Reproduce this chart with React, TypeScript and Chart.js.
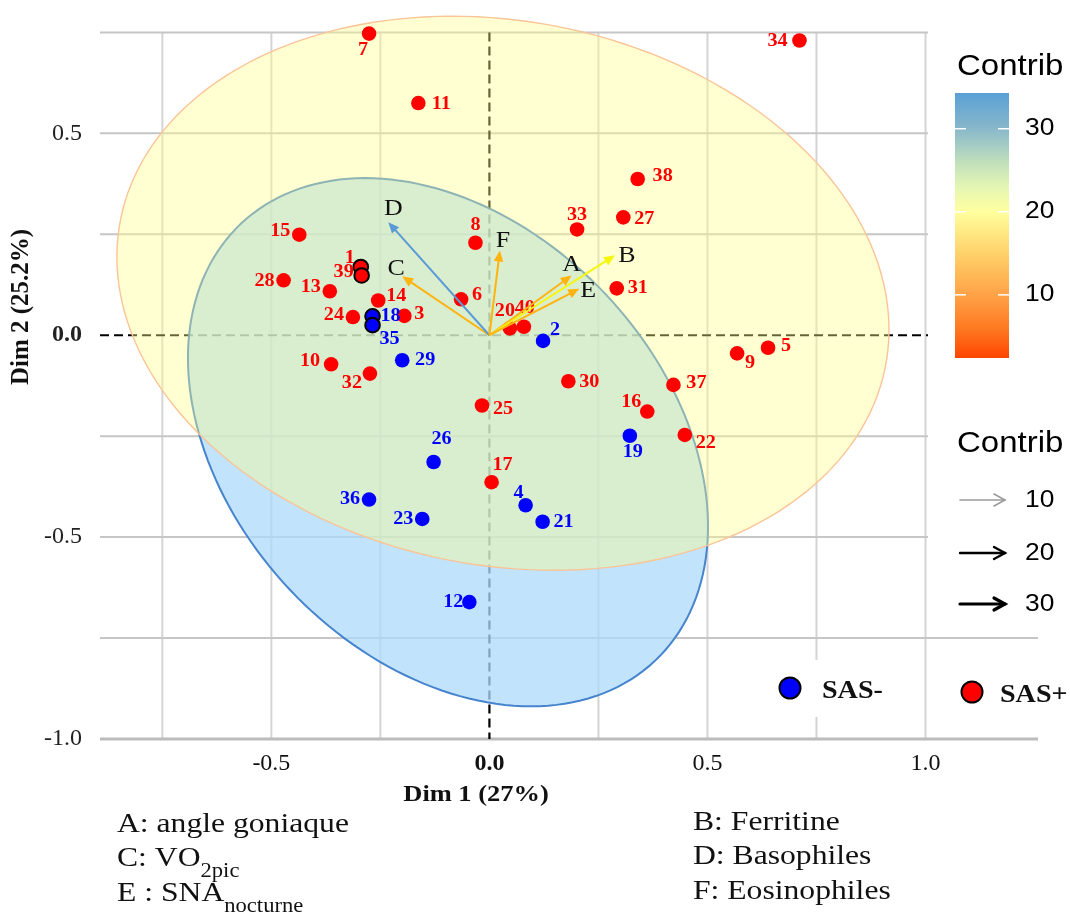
import React, { useEffect, useRef } from 'react';
import { Chart, registerables } from 'chart.js';

Chart.register(...registerables);

const SERIF = '"Liberation Serif", "Times New Roman", Times, serif';
const SANS = '"Liberation Sans", Arial, Helvetica, sans-serif';

// ---- individuals (PCA coordinates) ----
const sasPlusIds = [7, 11, 34, 38, 33, 27, 31, 15, 8, 1, 39, 28, 13, 14, 24, 3, 6, 20, 40, 5, 9, 10, 32, 30, 37, 16, 22, 25, 17];
const sasPlusX = [-0.276, -0.163, 0.711, 0.34, 0.201, 0.307, 0.292, -0.436, -0.032, -0.295, -0.293, -0.472, -0.366, -0.255, -0.313, -0.195, -0.065, 0.047, 0.079, 0.639, 0.568, -0.363, -0.274, 0.181, 0.422, 0.362, 0.448, -0.017, 0.005];
const sasPlusY = [0.747, 0.575, 0.73, 0.387, 0.262, 0.292, 0.116, 0.249, 0.229, 0.169, 0.148, 0.136, 0.109, 0.086, 0.045, 0.048, 0.089, 0.017, 0.021, -0.031, -0.045, -0.072, -0.095, -0.114, -0.123, -0.189, -0.247, -0.174, -0.364];

const sasMinusIds = [2, 18, 35, 29, 26, 19, 36, 23, 4, 21, 12];
const sasMinusX = [0.123, -0.268, -0.268, -0.2, -0.128, 0.322, -0.276, -0.154, 0.083, 0.122, -0.046];
const sasMinusY = [-0.014, 0.047, 0.025, -0.062, -0.314, -0.249, -0.407, -0.455, -0.421, -0.462, -0.661];

const outlinedIds = [1, 39, 18, 35];

// label placement relative to the point (px)
const labelOffset: Record<number, [number, number]> = {
  7: [-6, 17], 11: [23, 1], 34: [-22, 1], 38: [25, -3], 33: [0, -14], 27: [21, 2], 31: [21, 0],
  15: [-19, -3], 8: [0, -17], 1: [-11, -9], 39: [-18, -3], 28: [-19, 1], 13: [-19, -4], 14: [18, -4],
  24: [-19, -2], 3: [15, -2], 6: [16, -4], 20: [-5, -17], 40: [1, -18], 5: [18, -1], 9: [13, 10],
  10: [-21, -3], 32: [-18, 10], 30: [21, 1], 37: [23, -2], 16: [-16, -9], 22: [21, 8], 25: [21, 4],
  17: [11, -17], 2: [12, -11], 18: [18, 0], 35: [17, 14], 29: [23, 0], 26: [8, -23], 19: [3, 17],
  36: [-19, 0], 23: [-19, 0], 4: [-7, -12], 21: [21, 1], 12: [-16, 0],
};

// ---- variables (arrows) ----
const varNames = ['A', 'B', 'C', 'D', 'E', 'F'];
const varX = [0.1885, 0.288, -0.2, -0.232, 0.206, 0.024];
const varY = [0.148, 0.198, 0.146, 0.28, 0.115, 0.21];
const varColors = ['#ffb30f', '#f6f60c', '#ffb30f', '#5b9bd5', '#ffb30f', '#ffb30f'];
const varLabelOffset: [number, number][] = [[0, -11], [12, 0], [-6, -8], [5, -13], [9, 2], [3, -10]];

// ---- confidence ellipses ----
const ellipseGroups = ['SAS-', 'SAS+'];
const ellipseCenterX = [-0.095, 0.031];
const ellipseCenterY = [-0.265, 0.104];
const ellipseSemiMajor = [0.722, 0.896];
const ellipseSemiMinor = [0.512, 0.672];
const ellipseAngleDeg = [-53.1, -13.5];
const ellipseFill = ['rgba(172,218,250,0.75)', 'rgba(255,255,140,0.39)'];
const ellipseStroke = ['rgba(70,132,205,1)', 'rgba(250,196,150,1)'];

// ---- axes ----
const xMin = -0.893;
const xMax = 1.258;
const yMin = -1.0;
const yMax = 0.75;
const xTickValues = [-0.5, 0, 0.5, 1.0];
const yTickValues = [-1.0, -0.5, 0, 0.5];
const xGridValues = [-0.75, -0.5, -0.25, 0, 0.25, 0.5, 0.75, 1.0];
const yGridValues = [-1.0, -0.75, -0.5, -0.25, 0, 0.25, 0.5, 0.75];
const xTitle = 'Dim 1 (27%)';
const yTitle = 'Dim 2 (25.2%)';

// ---- legends ----
const contribRange = [2.4, 34.3];
const contribTicks = [10, 20, 30];
const contribStops = [2.4, 6, 10, 14, 17, 20, 23, 26, 28, 30, 34.3];
const contribColors = ['#ff4500', '#ff7a22', '#ffa247', '#ffc862', '#ffe47e', '#ffff9e', '#e4f6b4', '#c0e0bc', '#a4cbc4', '#88b8ca', '#5aa0d6'];
const arrowLegendValues = [10, 20, 30];
const groupNames = ['SAS-', 'SAS+'];
const groupColors = ['#0000ff', '#ff0000'];

// ---- footnotes ----
const notesLeft: [string, string][] = [['A: angle goniaque', ''], ['C: VO', '2pic'], ['E : SNA', 'nocturne']];
const notesRight: [string, string][] = [['B: Ferritine', ''], ['D: Basophiles', ''], ['F: Eosinophiles', '']];

function drawText(
  ctx: CanvasRenderingContext2D, s: string, x: number, y: number, font: string, color: string,
  align: 'left' | 'center' | 'right' = 'left', sx = 1.13, baseline: CanvasTextBaseline = 'alphabetic'
) {
  ctx.save();
  ctx.font = font;
  ctx.fillStyle = color;
  ctx.textBaseline = baseline;
  ctx.textAlign = 'left';
  const w = ctx.measureText(s).width * sx;
  const x0 = align === 'center' ? x - w / 2 : align === 'right' ? x - w : x;
  ctx.translate(x0, y);
  ctx.scale(sx, 1);
  ctx.fillText(s, 0, 0);
  ctx.restore();
  return w;
}

function line(ctx: CanvasRenderingContext2D, x1: number, y1: number, x2: number, y2: number) {
  ctx.beginPath();
  ctx.moveTo(x1, y1);
  ctx.lineTo(x2, y2);
  ctx.stroke();
}

const biplotPlugin = {
  id: 'biplot',
  beforeDatasetsDraw(chart: any) {
    const { ctx, chartArea: ca } = chart;
    const xs = chart.scales.x;
    const ys = chart.scales.y;
    ctx.save();
    // grid
    ctx.lineWidth = 2;
    ctx.strokeStyle = '#d4d4d4';
    xGridValues.forEach((v) => {
      if (v === 0) return;
      const px = xs.getPixelForValue(v);
      line(ctx, px, ca.top, px, ca.bottom);
    });
    yGridValues.forEach((v) => {
      if (v === 0) return;
      const py = ys.getPixelForValue(v);
      ctx.strokeStyle = v === yMin ? '#bcbcbc' : '#c6c6c6';
      ctx.lineWidth = v === yMin ? 3 : 2;
      line(ctx, ca.left, py, ca.right, py);
    });
    // dashed zero lines
    ctx.setLineDash([9, 5]);
    ctx.strokeStyle = '#000';
    ctx.lineWidth = 2.2;
    const x0 = xs.getPixelForValue(0);
    const y0 = ys.getPixelForValue(0);
    line(ctx, x0, ca.top, x0, ca.bottom);
    line(ctx, ca.left, y0, ca.right, y0);
    ctx.setLineDash([]);
    // legend backgrounds
    ctx.fillStyle = '#ffffff';
    ctx.fillRect(928, 31, 142, 605);
    ctx.fillRect(760, 660, 159, 57);
    // ellipses
    ellipseGroups.forEach((g, k) => {
      const th = (ellipseAngleDeg[k] * Math.PI) / 180;
      ctx.beginPath();
      const n = 180;
      for (let i = 0; i <= n; i++) {
        const t = (i / n) * Math.PI * 2;
        const a = ellipseSemiMajor[k] * Math.cos(t);
        const b = ellipseSemiMinor[k] * Math.sin(t);
        const dx = a * Math.cos(th) - b * Math.sin(th);
        const dy = a * Math.sin(th) + b * Math.cos(th);
        const px = xs.getPixelForValue(ellipseCenterX[k] + dx);
        const py = ys.getPixelForValue(ellipseCenterY[k] + dy);
        if (i === 0) ctx.moveTo(px, py);
        else ctx.lineTo(px, py);
      }
      ctx.closePath();
      ctx.fillStyle = ellipseFill[k];
      ctx.fill();
      ctx.strokeStyle = ellipseStroke[k];
      ctx.lineWidth = k === 0 ? 2 : 1.4;
      ctx.stroke();
    });
    ctx.restore();
  },
  afterDatasetsDraw(chart: any) {
    const { ctx } = chart;
    const xs = chart.scales.x;
    const ys = chart.scales.y;
    ctx.save();

    // point labels
    const labelFont = `bold 18px ${SERIF}`;
    sasPlusIds.forEach((id, i) => {
      const off = labelOffset[id] || [14, 0];
      drawText(ctx, String(id), xs.getPixelForValue(sasPlusX[i]) + off[0], ys.getPixelForValue(sasPlusY[i]) + off[1], labelFont, '#ff0000', 'center', 1.12, 'middle');
    });
    sasMinusIds.forEach((id, i) => {
      const off = labelOffset[id] || [14, 0];
      drawText(ctx, String(id), xs.getPixelForValue(sasMinusX[i]) + off[0], ys.getPixelForValue(sasMinusY[i]) + off[1], labelFont, '#0000ff', 'center', 1.12, 'middle');
    });

    // variable arrows
    const ox = xs.getPixelForValue(0);
    const oy = ys.getPixelForValue(0);
    varNames.forEach((name, i) => {
      const tx = xs.getPixelForValue(varX[i]);
      const ty = ys.getPixelForValue(varY[i]);
      const ang = Math.atan2(ty - oy, tx - ox);
      const c = Math.cos(ang);
      const s = Math.sin(ang);
      const hl = 11;
      const hw = 4.8;
      ctx.strokeStyle = varColors[i];
      ctx.fillStyle = varColors[i];
      ctx.lineWidth = 2;
      line(ctx, ox, oy, tx - hl * 0.7 * c, ty - hl * 0.7 * s);
      ctx.beginPath();
      ctx.moveTo(tx, ty);
      ctx.lineTo(tx - hl * c + hw * s, ty - hl * s - hw * c);
      ctx.lineTo(tx - hl * c - hw * s, ty - hl * s + hw * c);
      ctx.closePath();
      ctx.fill();
      const off = varLabelOffset[i];
      drawText(ctx, name, tx + off[0], ty + off[1], `24px ${SERIF}`, '#111', 'center', 1.08, 'middle');
    });

    // colour bar legend
    drawText(ctx, 'Contrib', 957, 75, `30px ${SANS}`, '#000', 'left', 1.1);
    const barTop = 93;
    const barBot = 358;
    const barL = 955;
    const barW = 54;
    const span = contribRange[1] - contribRange[0];
    const vToY = (v: number) => barTop + ((contribRange[1] - v) / span) * (barBot - barTop);
    const grad = ctx.createLinearGradient(0, barTop, 0, barBot);
    contribStops.forEach((v, i) => {
      grad.addColorStop(Math.min(1, Math.max(0, (contribRange[1] - v) / span)), contribColors[i]);
    });
    ctx.fillStyle = grad;
    ctx.fillRect(barL, barTop, barW, barBot - barTop);
    ctx.strokeStyle = '#ffffff';
    ctx.lineWidth = 1.5;
    contribTicks.forEach((v) => {
      const py = vToY(v);
      line(ctx, barL, py, barL + 11, py);
      line(ctx, barL + barW - 11, py, barL + barW, py);
      drawText(ctx, String(v), 1025, py, `24px ${SANS}`, '#000', 'left', 1.1, 'middle');
    });

    // arrow size legend
    drawText(ctx, 'Contrib', 957, 452, `30px ${SANS}`, '#000', 'left', 1.1);
    const arrowRowsY = [500, 553, 604];
    const arrowColorsLg = ['#9a9a9a', '#000000', '#000000'];
    const arrowWidthsLg = [1.6, 2.4, 3.2];
    arrowLegendValues.forEach((v, i) => {
      const y = arrowRowsY[i];
      ctx.strokeStyle = arrowColorsLg[i];
      ctx.lineWidth = arrowWidthsLg[i];
      ctx.lineCap = 'round';
      line(ctx, 960, y, 1005, y);
      ctx.beginPath();
      ctx.moveTo(994, y - 6);
      ctx.lineTo(1005, y);
      ctx.lineTo(994, y + 6);
      ctx.stroke();
      ctx.lineCap = 'butt';
      drawText(ctx, String(v), 1025, y, `24px ${SANS}`, '#000', 'left', 1.1, 'middle');
    });

    // group legend
    const grpX = [790, 972];
    const grpY = [688, 692];
    const grpTextX = [822, 1000];
    groupNames.forEach((g, i) => {
      ctx.beginPath();
      ctx.arc(grpX[i], grpY[i], 10.5, 0, Math.PI * 2);
      ctx.fillStyle = groupColors[i];
      ctx.fill();
      ctx.strokeStyle = '#000';
      ctx.lineWidth = 2;
      ctx.stroke();
      drawText(ctx, g, grpTextX[i], grpY[i] + 10, `bold 26px ${SERIF}`, '#111', 'left', 1.08);
    });

    // axis titles
    drawText(ctx, xTitle, 476, 801, `bold 23px ${SERIF}`, '#111', 'center', 1.15);
    ctx.save();
    ctx.translate(22, 307);
    ctx.rotate(-Math.PI / 2);
    ctx.font = `bold 25px ${SERIF}`;
    ctx.fillStyle = '#111';
    ctx.textAlign = 'center';
    ctx.textBaseline = 'middle';
    ctx.fillText(yTitle, 0, 0);
    ctx.restore();

    // footnotes
    const rowBase = [832, 866, 901];
    const drawNote = (note: [string, string], x: number, y: number) => {
      const w = drawText(ctx, note[0], x, y, `28px ${SERIF}`, '#111', 'left', 1.13);
      if (note[1]) drawText(ctx, note[1], x + w, y + 11, `20px ${SERIF}`, '#111', 'left', 1.13);
    };
    notesLeft.forEach((n, i) => drawNote(n, 117, rowBase[i]));
    notesRight.forEach((n, i) => drawNote(n, 693, rowBase[i] - 2));

    ctx.restore();
  },
};

export default function App() {
  const ref = useRef<HTMLCanvasElement | null>(null);
  useEffect(() => {
    if (!ref.current) return;
    const plusColorBorder = (c: any) => (outlinedIds.includes(sasPlusIds[c.dataIndex]) ? '#000' : '#ff0000');
    const plusBorderW = (c: any) => (outlinedIds.includes(sasPlusIds[c.dataIndex]) ? 2 : 0);
    const minusColorBorder = (c: any) => (outlinedIds.includes(sasMinusIds[c.dataIndex]) ? '#000' : '#0000ff');
    const minusBorderW = (c: any) => (outlinedIds.includes(sasMinusIds[c.dataIndex]) ? 2 : 0);
    const tickFont = (c: any) => ({
      family: SERIF,
      size: 24,
      weight: c.tick && c.tick.value === 0 ? 'bold' : 'normal',
    });
    const chart = new Chart(ref.current, {
      type: 'scatter',
      data: {
        datasets: [
          {
            label: 'SAS+',
            data: sasPlusX.map((x, i) => ({ x, y: sasPlusY[i] })),
            backgroundColor: '#ff0000',
            pointBackgroundColor: '#ff0000',
            pointBorderColor: plusColorBorder,
            pointBorderWidth: plusBorderW,
            pointRadius: 7.3,
            pointHoverRadius: 7.3,
            clip: false,
          } as any,
          {
            label: 'SAS-',
            data: sasMinusX.map((x, i) => ({ x, y: sasMinusY[i] })),
            backgroundColor: '#0000ff',
            pointBackgroundColor: '#0000ff',
            pointBorderColor: minusColorBorder,
            pointBorderWidth: minusBorderW,
            pointRadius: 7.3,
            pointHoverRadius: 7.3,
            clip: false,
          } as any,
        ],
      },
      options: {
        animation: false,
        responsive: false,
        devicePixelRatio: 1,
        events: [],
        layout: { padding: { top: 28, right: 32, left: 0, bottom: 0 } },
        plugins: { legend: { display: false }, tooltip: { enabled: false } },
        scales: {
          x: {
            type: 'linear',
            min: xMin,
            max: xMax,
            grid: { display: false, drawTicks: false },
            border: { display: false },
            afterBuildTicks: (axis: any) => {
              axis.ticks = xTickValues.map((v) => ({ value: v }));
            },
            afterFit: (axis: any) => {
              axis.height = 178;
            },
            ticks: {
              autoSkip: false,
              maxRotation: 0,
              padding: 10,
              color: '#111',
              font: tickFont as any,
              callback: (v: any) => Number(v).toFixed(1),
            },
          },
          y: {
            type: 'linear',
            min: yMin,
            max: yMax,
            grid: { display: false, drawTicks: false },
            border: { display: false },
            afterBuildTicks: (axis: any) => {
              axis.ticks = yTickValues.map((v) => ({ value: v }));
            },
            afterFit: (axis: any) => {
              axis.width = 100;
            },
            ticks: {
              autoSkip: false,
              padding: 18,
              color: '#222',
              font: tickFont as any,
              callback: (v: any) => Number(v).toFixed(1),
            },
          },
        },
      },
      plugins: [biplotPlugin],
    });
    return () => chart.destroy();
  }, []);
  return (
    <div style={{ position: 'absolute', left: 0, top: 0, width: 1070, height: 917 }}>
      <canvas ref={ref} width={1070} height={917} style={{ display: 'block' }} />
    </div>
  );
}
